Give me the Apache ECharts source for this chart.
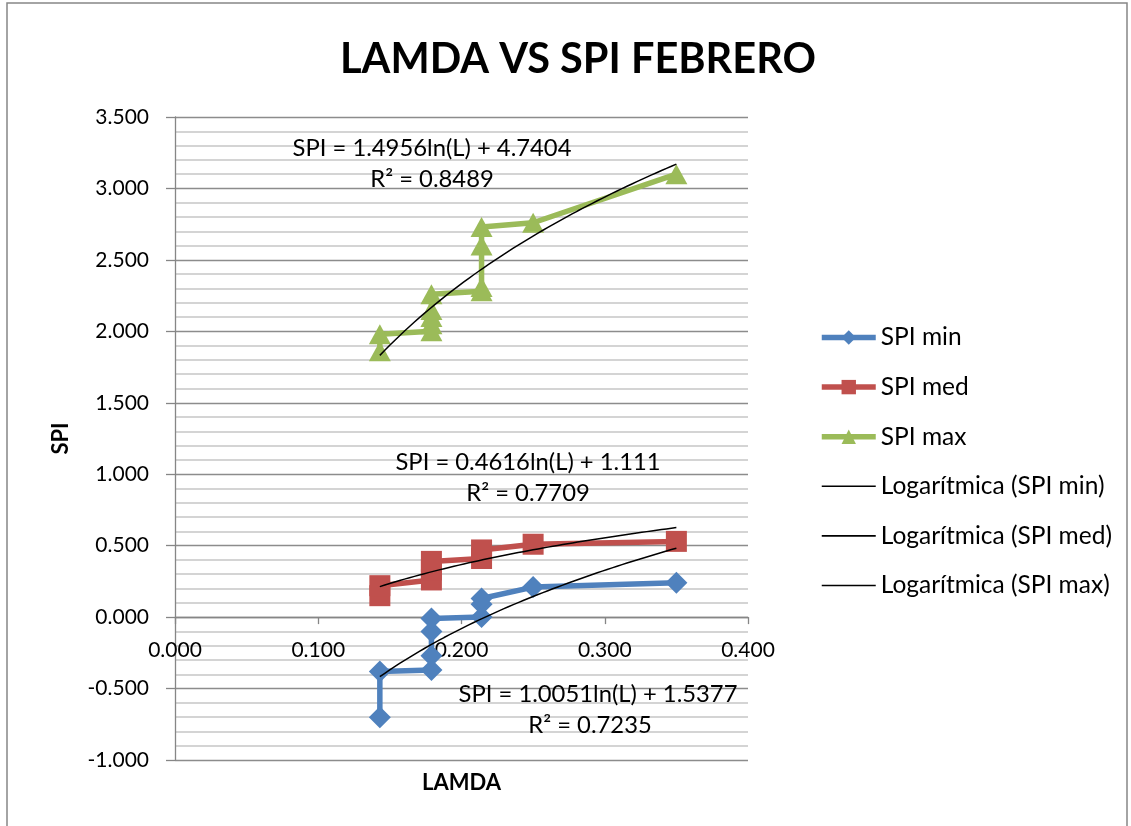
<!DOCTYPE html>
<html>
<head>
<meta charset="utf-8">
<title>LAMDA VS SPI FEBRERO</title>
<script src="https://cdn.jsdelivr.net/npm/echarts@6/dist/echarts.min.js"></script>
<style>
  html, body { margin: 0; padding: 0; background: #ffffff; }
  #chart { width: 1131px; height: 826px; }
</style>
</head>
<body>
<div id="chart"></div>
<script>
// SPI values per lambda, listed in the order the lines connect them
const spiMinLamda = [0.143, 0.143, 0.179, 0.179, 0.179, 0.179, 0.214, 0.214, 0.214, 0.250, 0.350];
const spiMinValues = [-0.70, -0.38, -0.37, -0.27, -0.10, -0.01, 0.00, 0.09, 0.13, 0.21, 0.24];

const spiMedLamda = [0.143, 0.143, 0.179, 0.179, 0.179, 0.214, 0.214, 0.250, 0.350];
const spiMedValues = [0.15, 0.22, 0.26, 0.33, 0.39, 0.41, 0.47, 0.51, 0.53];

const spiMaxLamda = [0.143, 0.143, 0.179, 0.179, 0.179, 0.179, 0.179, 0.214, 0.214, 0.214, 0.214, 0.250, 0.350];
const spiMaxValues = [1.86, 1.98, 2.00, 2.05, 2.10, 2.15, 2.26, 2.28, 2.31, 2.60, 2.73, 2.76, 3.10];

// Logarithmic trendlines: SPI = a*ln(L) + b
const trendNames = ['Logarítmica (SPI min)', 'Logarítmica (SPI med)', 'Logarítmica (SPI max)'];
const trendA = [1.0051, 0.4616, 1.4956];
const trendB = [1.5377, 1.111, 4.7404];
const trendR2 = ['0.7235', '0.7709', '0.8489'];
const trendRange = [0.143, 0.350];

// Axis ranges: [min, max, interval]
const xRange = [0, 0.4, 0.1];
const yRange = [-1, 3.5, 0.5];

const seriesNames = ['SPI min', 'SPI med', 'SPI max'];
const seriesColors = ['#4F81BD', '#C0504D', '#9BBB59'];
const seriesSymbols = ['diamond', 'rect', 'triangle'];
const symbolSizes = [22, 21, [22, 20]];

const FONT = 'Lato, "Open Sans", sans-serif';

const GRID = { left: 175, right: 383, top: 117, bottom: 66 };
const CHART_H = 826;

function pairs(xs, ys) {
  return xs.map((x, i) => [x, ys[i]]);
}

function trendCurve(a, b) {
  const pts = [];
  const n = 60;
  for (let i = 0; i <= n; i++) {
    const L = trendRange[0] + (trendRange[1] - trendRange[0]) * i / n;
    pts.push([L, a * Math.log(L) + b]);
  }
  return pts;
}

function equationText(k) {
  return 'SPI = ' + trendA[k] + 'ln(L) + ' + trendB[k];
}

// The horizontal axis sits on SPI = 0: shift it up from the grid bottom
const gridHeight = CHART_H - GRID.top - GRID.bottom;
const zeroOffset = -gridHeight * (0 - yRange[0]) / (yRange[1] - yRange[0]);

const dataSets = [
  pairs(spiMinLamda, spiMinValues),
  pairs(spiMedLamda, spiMedValues),
  pairs(spiMaxLamda, spiMaxValues)
];

const series = [];
dataSets.forEach((d, k) => {
  series.push({
    name: seriesNames[k],
    type: 'line',
    data: d,
    symbol: seriesSymbols[k],
    symbolSize: symbolSizes[k],
    showAllSymbol: true,
    lineStyle: { color: seriesColors[k], width: 5.5 },
    itemStyle: { color: seriesColors[k] },
    z: 2,
    animation: false
  });
});
trendA.forEach((a, k) => {
  series.push({
    name: trendNames[k],
    type: 'line',
    data: trendCurve(a, trendB[k]),
    symbol: 'none',
    lineStyle: { color: '#000000', width: 1.5 },
    itemStyle: { color: '#000000' },
    z: 3,
    animation: false
  });
});

const legendData = seriesNames.map((n, k) => ({
  name: n,
  lineStyle: { width: 5.5, color: seriesColors[k] }
})).concat(trendNames.map(n => ({
  name: n,
  icon: 'path://M0,0 L54,0 L54,1.6 L0,1.6 Z',
  lineStyle: { width: 1.6, color: '#000' },
  itemStyle: { color: '#000' }
})));

// Equation / R² annotation anchors (pixel centres)
const eqPos = [[598, 694], [528, 462], [432, 148]];
const graphics = [
  {
    type: 'rect',
    shape: { x: 7, y: 3, width: 1120, height: 840 },
    style: { fill: 'none', stroke: '#878787', lineWidth: 1.5 },
    silent: true
  }
];
eqPos.forEach((p, k) => {
  graphics.push({
    type: 'text',
    x: p[0], y: p[1],
    style: { text: equationText(k), font: '23.8px ' + FONT, fill: '#000', align: 'center', verticalAlign: 'middle' },
    z: 10
  });
  graphics.push({
    type: 'text',
    x: p[0] - (k === 0 ? 8 : 0), y: p[1] + 31,
    style: { text: 'R² = ' + trendR2[k], font: '23.8px ' + FONT, fill: '#000', align: 'center', verticalAlign: 'middle' },
    z: 10
  });
});

const chart = echarts.init(document.getElementById('chart'), null, { renderer: 'canvas' });
chart.setOption({
  backgroundColor: '#ffffff',
  animation: false,
  title: {
    text: 'LAMDA VS SPI FEBRERO',
    left: 573, top: 34,
    textAlign: 'center',
    textStyle: { fontFamily: FONT, fontWeight: 'bold', fontSize: 41.5, color: '#000' }
  },
  grid: {
    left: GRID.left, right: GRID.right, top: GRID.top, bottom: GRID.bottom,
    containLabel: false,
    outerBoundsMode: 'none'
  },
  legend: {
    orient: 'vertical',
    left: 814, top: 320,
    itemWidth: 54, itemHeight: 18,
    itemGap: 24.6,
    data: legendData,
    textStyle: { fontFamily: FONT, fontSize: 24.5, color: '#000', lineHeight: 24 },
    inactiveColor: '#ccc'
  },
  xAxis: {
    type: 'value',
    min: xRange[0], max: xRange[1], interval: xRange[2],
    offset: zeroOffset,
    name: 'LAMDA',
    nameLocation: 'middle',
    nameGap: 155,
    nameTextStyle: { fontFamily: FONT, fontWeight: 'bold', fontSize: 22, color: '#000' },
    axisLine: { onZero: false, lineStyle: { color: '#868686', width: 1.3 } },
    axisTick: { show: true, length: 7, lineStyle: { color: '#868686', width: 1.3 } },
    axisLabel: { fontFamily: FONT, fontSize: 21, color: '#000', margin: 23, formatter: v => v.toFixed(3) },
    splitLine: { show: false }
  },
  yAxis: {
    type: 'value',
    min: yRange[0], max: yRange[1], interval: yRange[2],
    name: 'SPI',
    nameLocation: 'middle',
    nameGap: 103,
    nameRotate: 90,
    nameTextStyle: { fontFamily: FONT, fontWeight: 'bold', fontSize: 22, color: '#000' },
    axisLine: { show: true, onZero: false, lineStyle: { color: '#868686', width: 1.3 } },
    axisTick: { show: true, length: 9, lineStyle: { color: '#868686', width: 1.3 } },
    axisLabel: { fontFamily: FONT, fontSize: 21, color: '#000', margin: 26, formatter: v => v.toFixed(3) },
    splitLine: { show: true, lineStyle: { color: '#8c8c8c', width: 1.3 } },
    minorTick: { show: false, splitNumber: 5 },
    minorSplitLine: { show: true, lineStyle: { color: '#c6c6c6', width: 1.6 } }
  },
  series: series,
  graphic: graphics
});
</script>
</body>
</html>
